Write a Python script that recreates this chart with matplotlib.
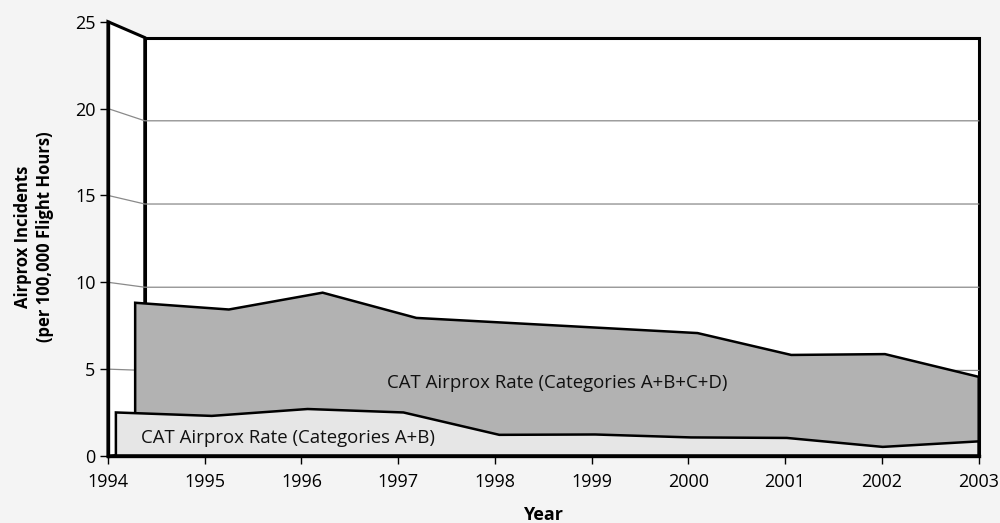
import numpy as np
import matplotlib
matplotlib.use("Agg")
import matplotlib.pyplot as plt

plt.rcParams['font.family'] = ['Open Sans', 'DejaVu Sans']

years = [1994, 1995, 1996, 1997, 1998, 1999, 2000, 2001, 2002, 2003]
rate_abcd = [9.0, 8.6, 9.6, 8.1, 7.8, 7.5, 7.2, 5.9, 5.95, 4.6]
rate_ab = [2.5, 2.3, 2.7, 2.5, 1.2, 1.22, 1.05, 1.02, 0.5, 0.82]
label_abcd = "CAT Airprox Rate (Categories A+B+C+D)"
label_ab = "CAT Airprox Rate (Categories A+B)"
yticks = [0, 5, 10, 15, 20, 25]

# fake 3D: everything shrinks towards a vanishing point as it goes back
vp_x, vp_y = 2003.06, 3.22
wall_depth = 0.042
depth_abcd = 0.031
depth_ab = 0.009


def proj(x, y, s):
    x = np.asarray(x, dtype=float)
    y = np.asarray(y, dtype=float)
    return vp_x + (x - vp_x) * (1 - s), vp_y + (y - vp_y) * (1 - s)


bg = '#f4f4f4'
fig = plt.figure(figsize=(10, 5.23), dpi=100, facecolor=bg)
ax = fig.add_axes([0.108, 67 / 523, 0.8705, (456 - 21.7) / 523])
ax.set_facecolor(bg)
ax.set_xlim(1994, 2003)
ax.set_ylim(0, 25)

# left wall
wx, wy = proj([1994, 1994], [25, 0], wall_depth)
ax.fill([1994, wx[0], wx[1], 1994], [25, wy[0], wy[1], 0], facecolor='white',
        edgecolor='black', lw=2.2, zorder=1, clip_on=False)
# back wall
bx, by = proj([1994, 2003, 2003, 1994], [25, 25, 0, 0], wall_depth)
ax.fill(bx, by, facecolor='white', edgecolor='black', lw=2.2, zorder=1,
        clip_on=False)

# gridlines on the walls
for v in yticks[1:-1]:
    gx, gy = proj([1994, 2003], [v, v], wall_depth)
    ax.plot([1994, gx[0], gx[1]], [v, gy[0], gy[1]], color='#8a8a8a', lw=0.9,
            zorder=2, clip_on=False)

# series ribbons (front faces only)
for vals, s, col, z in [(rate_abcd, depth_abcd, '#b2b2b2', 3),
                        (rate_ab, depth_ab, '#e6e6e6', 4)]:
    tx, ty = proj(years, vals, s)
    lx, ly = proj(years, np.zeros(len(years)), s)
    px = np.concatenate([tx, lx[::-1]])
    py = np.concatenate([ty, ly[::-1]])
    ax.fill(px, py, facecolor=col, edgecolor='black', lw=1.8, zorder=z,
            joinstyle='miter', clip_on=False)

ax.text(1998.64, 4.2, label_abcd, ha='center', va='center', fontsize=13.4,
        color='#111111', zorder=6)
ax.text(1995.86, 1.04, label_ab, ha='center', va='center', fontsize=13.4,
        color='#111111', zorder=6)

for side in ['top', 'right']:
    ax.spines[side].set_visible(False)
for side in ['left', 'bottom']:
    ax.spines[side].set_linewidth(2.4)
    ax.spines[side].set_zorder(7)

ax.set_xticks(years)
ax.set_yticks(yticks)
ax.tick_params(axis='both', direction='out', length=6, width=1,
               labelsize=13, pad=3, colors='black')
ax.tick_params(axis='x', pad=6)
ax.set_xlabel("Year", fontsize=13, fontweight='bold', labelpad=11)
fig.text(0.034, 0.547, "Airprox Incidents\n(per 100,000 Flight Hours)",
         rotation=90, ha='center', va='center', fontsize=12,
         fontweight='bold', linespacing=1.3)

fig.savefig("out.png", dpi=100, facecolor=bg)
